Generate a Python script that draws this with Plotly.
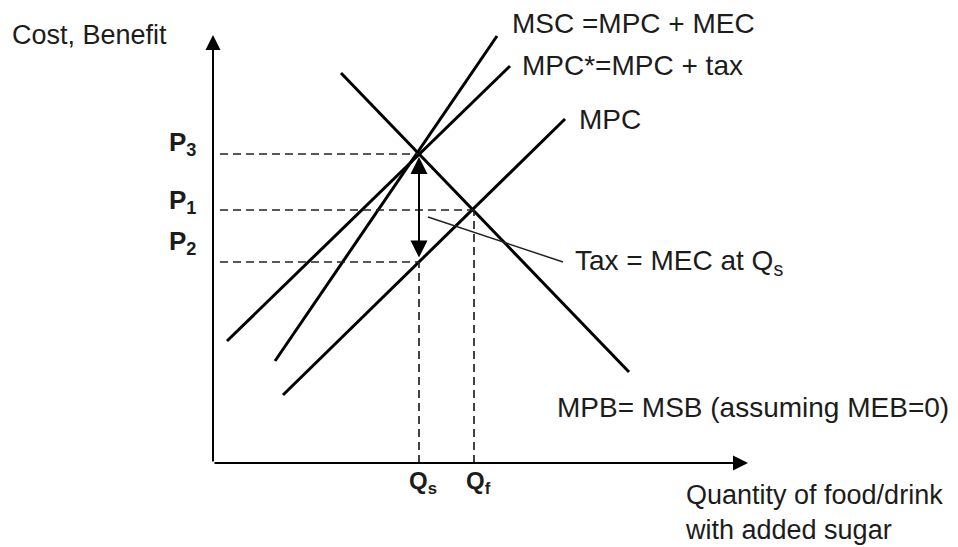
import plotly.graph_objects as go

# ---- data (economic diagram, arbitrary units; origin at the axes corner) ----
curve_names = ["MPB", "MSC", "MPC*", "MPC"]
curve_x = {"MPB": [12.8, 41.6], "MSC": [6.2, 28.4], "MPC*": [1.4, 29.7], "MPC": [7.0, 35.2]}
curve_y = {"MPB": [39.0, 9.1], "MSC": [10.2, 42.7], "MPC*": [12.2, 39.7], "MPC": [6.8, 34.4]}

q_names = ["Qs", "Qf"]
q_values = [20.6, 26.1]
p_names = ["P3", "P1", "P2"]
p_values = [30.9, 25.3, 20.1]
p_at_q = {"P3": 20.6, "P1": 26.1, "P2": 20.6}   # quantity where each price line ends
q_from_p = {"Qs": 20.1, "Qf": 25.3}             # price where each quantity line starts

x_axis_end = 53.5
y_axis_end = 42.8

curve_labels = ["MSC =MPC + MEC", "MPC*=MPC + tax", "MPC", "Tax = MEC at Q<sub>s</sub>",
                "MPB= MSB (assuming MEB=0)"]
y_title = "Cost, Benefit"
x_title = "Quantity of food/drink<br>with added sugar"

FONT = "Liberation Sans, Arial, sans-serif"
TXT = "#1c1c1c"

fig = go.Figure()

# supply / demand curves
for n in curve_names:
    fig.add_trace(go.Scatter(x=curve_x[n], y=curve_y[n], mode="lines",
                             line=dict(color="black", width=3), hoverinfo="skip"))

# dashed price lines
for n, p in zip(p_names, p_values):
    fig.add_trace(go.Scatter(x=[0.7, p_at_q[n]], y=[p, p], mode="lines",
                             line=dict(color="#222", width=1.7, dash="8px,5px"), hoverinfo="skip"))
# dashed quantity lines
for n, q in zip(q_names, q_values):
    fig.add_trace(go.Scatter(x=[q, q], y=[0, q_from_p[n]], mode="lines",
                             line=dict(color="#222", width=1.7, dash="8px,5px"), hoverinfo="skip"))

# leader line for the tax label
fig.add_trace(go.Scatter(x=[21.5, 35.0], y=[24.6, 20.1], mode="lines",
                         line=dict(color="#222", width=1.5), hoverinfo="skip"))

ann = []
# axes with arrows
ann.append(dict(x=x_axis_end, y=0, ax=0, ay=0, xref="x", yref="y", axref="x", ayref="y",
                text="", showarrow=True, arrowhead=2, arrowwidth=2, arrowsize=1.5,
                arrowcolor="black", standoff=0))
ann.append(dict(x=0, y=y_axis_end, ax=0, ay=0, xref="x", yref="y", axref="x", ayref="y",
                text="", showarrow=True, arrowhead=2, arrowwidth=2, arrowsize=1.5,
                arrowcolor="black", standoff=0))
# double arrow (tax wedge)
ann.append(dict(x=q_values[0], y=p_values[0] - 0.3, ax=q_values[0], ay=p_values[2] + 0.3,
                xref="x", yref="y", axref="x", ayref="y", text="", showarrow=True,
                arrowhead=2, startarrowhead=2, arrowside="end+start", arrowwidth=2,
                arrowsize=1.7, startarrowsize=1.7, arrowcolor="black", standoff=0, startstandoff=0))

# price labels
p_offsets = {"P3": 1.1, "P1": 0.9, "P2": 2.0}
for n, p in zip(p_names, p_values):
    ann.append(dict(x=-1.5, y=p + p_offsets[n], xref="x", yref="y", xanchor="right", yanchor="middle",
                    text=f"<b>P<sub>{n[1]}</sub></b>", showarrow=False,
                    font=dict(family=FONT, size=26, color=TXT)))
# quantity labels
for n, q in zip(q_names, q_values):
    ann.append(dict(x=q + 0.4, y=-1.9, xref="x", yref="y", xanchor="center", yanchor="middle",
                    text=f"<b>Q<sub>{n[1]}</sub></b>", showarrow=False,
                    font=dict(family=FONT, size=24, color=TXT)))

label_pos = [(29.7, 44.0), (30.7, 39.8), (36.4, 34.4), (36.0, 20.1), (34.2, 5.6)]
label_size = [28, 28, 28, 28, 28]
for t, (x, y), s in zip(curve_labels, label_pos, label_size):
    ann.append(dict(x=x, y=y, xref="x", yref="y", xanchor="left", yanchor="middle", text=t,
                    showarrow=False, font=dict(family=FONT, size=s, color=TXT)))

ann.append(dict(x=-20.3, y=42.8, xref="x", yref="y", xanchor="left", yanchor="middle", text=y_title,
                showarrow=False, font=dict(family=FONT, size=27, color=TXT)))
ann.append(dict(x=47.0, y=-1.5, xref="x", yref="y", xanchor="left", yanchor="top", text=x_title,
                align="left", showarrow=False, font=dict(family=FONT, size=27, color=TXT)))

fig.update_layout(
    width=958, height=547, margin=dict(l=0, r=0, t=0, b=0),
    paper_bgcolor="white", plot_bgcolor="white", showlegend=False,
    xaxis=dict(range=[-21.3, 74.5], visible=False, fixedrange=True),
    yaxis=dict(range=[-8.4, 46.3], visible=False, fixedrange=True),
    annotations=ann,
)

fig.write_html("out.html", config={"displayModeBar": False},
               post_script="document.body.style.margin='0';document.body.style.overflow='hidden';")
